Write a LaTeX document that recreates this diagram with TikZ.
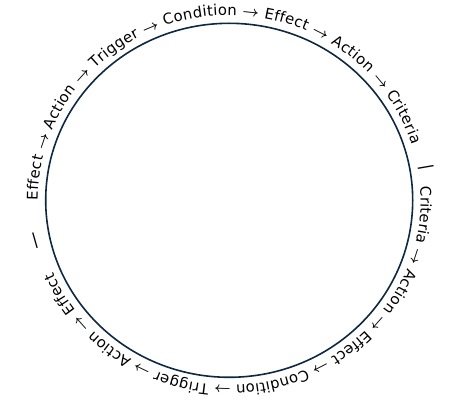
\documentclass[tikz,border=0pt]{standalone}
\usepackage{fontspec}
\setmainfont{DejaVu Sans}
\usetikzlibrary{decorations.text}
\definecolor{ringcol}{HTML}{0E2841}
\tikzset{
  ring/.style={draw=ringcol, line width=1.6pt},
  ringtext/.style={decorate, decoration={text along path, text align={fit to path}, text={#1}}},
  sepbar/.style={inner sep=0pt, font=\fontsize{16}{18}\selectfont},
}
\begin{document}
\begin{tikzpicture}[x=1pt,y=1pt]
\fontsize{14.8}{18}\selectfont
\useasboundingbox (0,0) rectangle (458,410);
\coordinate (c) at (229.2,209.7);
\draw[ring] (c) ellipse[x radius=183.5pt, y radius=177pt];
\path[ringtext={Effect {\fontsize{15}{18}\selectfont\boldmath$\rightarrow$} Action {\fontsize{15}{18}\selectfont\boldmath$\rightarrow$} Trigger {\fontsize{15}{18}\selectfont\boldmath$\rightarrow$} Condition {\fontsize{15}{18}\selectfont\boldmath$\rightarrow$} Effect {\fontsize{15}{18}\selectfont\boldmath$\rightarrow$} Action {\fontsize{15}{18}\selectfont\boldmath$\rightarrow$} Criteria}]
  (c) ++(180:191.5pt and 185pt) arc[start angle=180, end angle=17.5, x radius=191.5pt, y radius=185pt];
\path[ringtext={Criteria {\fontsize{15}{18}\selectfont\boldmath$\rightarrow$} Action {\fontsize{15}{18}\selectfont\boldmath$\rightarrow$} Effect {\fontsize{15}{18}\selectfont\boldmath$\rightarrow$} Condition {\fontsize{15}{18}\selectfont\boldmath$\rightarrow$} Trigger {\fontsize{15}{18}\selectfont\boldmath$\rightarrow$} Action {\fontsize{15}{18}\selectfont\boldmath$\rightarrow$} Effect}]
  (c) ++(4.3:191.5pt and 185pt) arc[start angle=4.3, end angle=-157, x radius=191.5pt, y radius=185pt];
\node[sepbar, rotate=-80.2] (sepR) at (425.7,242.5) {\textbar};
\node[sepbar, rotate=16] (sepL) at (35,169) {\textbar};
\end{tikzpicture}
\end{document}
